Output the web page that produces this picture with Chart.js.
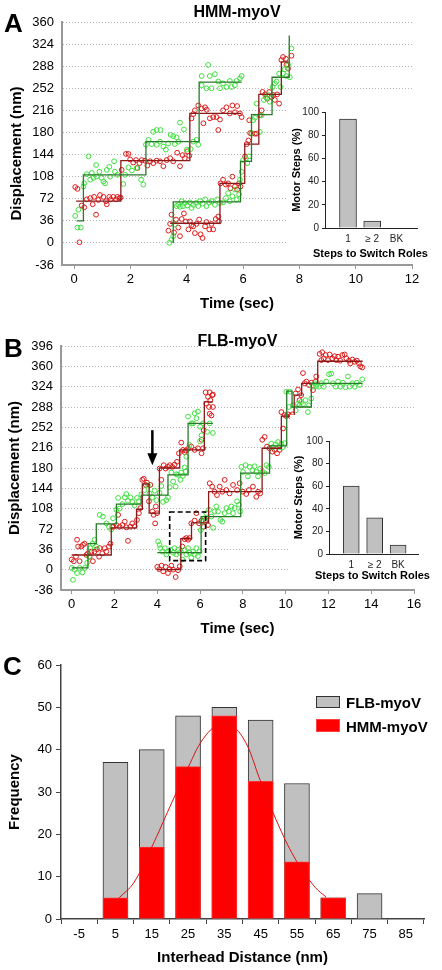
<!DOCTYPE html>
<html><head><meta charset="utf-8">
<script src="https://cdn.jsdelivr.net/npm/chart.js@4.4.1/dist/chart.umd.min.js"></script>
<style>
body{margin:0;background:#fff;}
#wrap{position:relative;width:442px;height:970px;overflow:hidden;font-family:'Liberation Sans',Arial,Helvetica,sans-serif;}
canvas{position:absolute;}
.lbl{position:absolute;font-weight:bold;color:#000;white-space:nowrap;}
.box{position:absolute;box-sizing:border-box;}
</style></head>
<body><div id="wrap">
<canvas id="cA" width="442" height="315" style="left:0;top:0"></canvas>
<canvas id="cAi" width="150" height="163" style="left:287px;top:100px"></canvas>
<canvas id="cB" width="442" height="320" style="left:0;top:320px"></canvas>
<canvas id="cBi" width="150" height="173" style="left:290px;top:415px"></canvas>
<canvas id="cC" width="442" height="330" style="left:0;top:640px"></canvas>
</div>
<script>
// ---------- Panel A (HMM-myoV) ----------
const timeTicksA = [0,2,4,6,8,10,12];
const dispTicksA = [-36,0,36,72,108,144,180,216,252,288,324,360];
// head trace 1
const aGreen1 = [[0.04,44],[0.15,54],[0.12,25],[0.24,25],[0.33,92],[0.36,97],[0.45,112],[0.51,141],[0.57,103],[0.63,114],[0.69,106],[0.78,127],[0.8,108],[0.9,116],[0.98,106],[1.04,100],[1.1,97],[1.16,119],[1.25,124],[1.28,108],[1.42,133],[1.45,116],[1.54,111],[1.75,96],[1.81,111],[1.93,123],[2.05,118],[2.22,122],[2.38,103],[2.46,95],
[2.55,160],[2.64,168],[2.75,161],[2.81,181],[2.93,184],[3.07,184],[2.93,160],[3.05,165],[3.17,157],[3.26,152],[3.34,162],[3.43,176],[3.52,174],[3.58,161],[3.64,172],[3.7,165],[3.76,196],[3.9,185],[4.0,152],[4.14,153],[4.23,165],[4.35,168],[4.41,160],
[4.53,257],[4.53,272],[4.7,252],[4.76,290],[4.82,272],[4.88,252],[5.0,275],[5.12,263],[5.18,252],[5.29,260],[5.41,254],[5.53,264],[5.59,254],[5.71,257],[5.77,264],[5.89,268],[5.95,272]];
const aRed1 = [[0.04,91],[0.12,88],[0.19,1],[0.27,61],[0.36,58],[0.45,71],[0.57,73],[0.66,63],[0.71,75],[0.78,46],[0.86,70],[0.92,78],[1.04,75],[1.13,68],[1.16,63],[1.25,75],[1.3,71],[1.39,75],[1.49,71],[1.54,75],[1.61,73],[1.65,74],
[1.69,119],[1.84,145],[1.93,145],[1.99,136],[2.1,131],[2.2,135],[2.25,122],[2.32,130],[2.4,135],[2.52,134],[2.6,126],[2.7,133],[2.81,130],[2.93,134],[3.05,133],[3.17,125],[3.29,135],[3.41,138],[3.52,133],[3.66,147],[3.76,125],[3.85,143],[3.93,138],[4.02,149],[4.09,142],
[4.17,203],[4.23,210],[4.29,216],[4.41,224],[4.53,219],[4.59,195],[4.65,221],[4.71,217],[4.82,203],[4.94,205],[5.06,205],[5.12,184],[5.18,201],[5.29,216],[5.41,221],[5.53,211],[5.62,224],[5.71,213],[5.79,223],[5.89,211],[5.95,205]];
// head trace 2
const aGreen2 = [[3.38,0],[3.46,5],[3.52,11],[3.58,30],[3.64,60],[3.7,62],[3.76,59],[3.82,68],[3.87,60],[3.93,65],[4.02,61],[4.11,66],[4.17,57],[4.23,62],[4.33,65],[4.41,60],[4.47,68],[4.56,64],[4.65,71],[4.7,60],[4.8,66],[4.88,68],[5.0,62],[5.08,71],[5.18,65],[5.29,66],[5.39,73],[5.47,81],[5.53,68],[5.62,76],[5.71,87],[5.77,71],[5.86,79],
[5.89,103],[5.95,116],[6.0,135],[6.1,138],[6.15,130],[6.22,141],
[6.3,179],[6.36,200],[6.42,204],[6.48,227],[6.6,181],[6.66,208],[6.74,233],[6.81,237],[6.89,241],[6.95,230],
[7.05,254],[7.13,260],[7.19,263],[7.28,276],[7.33,254],[7.42,276],[7.48,283],[7.54,272],[7.6,290],[7.66,270],[7.72,317]];
const aRed2 = [[3.35,20],[3.41,31],[3.46,46],[3.55,17],[3.62,38],[3.7,25],[3.76,11],[3.82,39],[3.9,48],[3.97,35],[4.06,22],[4.11,35],[4.17,29],[4.23,27],[4.29,16],[4.35,31],[4.44,38],[4.49,14],[4.56,8],[4.65,27],[4.7,34],[4.8,22],[4.88,31],[4.94,22],[5.03,39],[5.12,43],[5.15,35],
[5.2,97],[5.29,103],[5.39,95],[5.47,97],[5.55,89],[5.62,108],[5.71,92],[5.79,87],[5.86,97],[5.91,92],
[6.07,141],[6.13,161],[6.19,167],[6.25,179],[6.3,178],[6.42,178],[6.48,178],[6.22,200],
[6.6,208],[6.66,216],[6.69,246],[6.78,242],[6.86,235],[6.93,246],[7.01,238],[7.07,241],[7.13,233],[7.21,242],[7.28,227],
[7.36,298],[7.42,303],[7.52,300],[7.54,290],[7.6,284],[7.72,305]];
// step fits (time of each step, level after it)
const aGreenStep1T = [0.09,0.33,2.55,4.44,5.95];
const aGreenStep1Y = [36,111,165,262,262];
const aRedStep1T = [0.07,1.66,4.11,5.94];
const aRedStep1Y = [68,134,211,211];
const aGreenStep2T = [3.52,3.52,5.91,6.3,7.03,7.64];
const aGreenStep2Y = [0,67,133,209,270,338];
const aRedStep2T = [3.41,5.18,6.06,6.56,7.36,7.62];
const aRedStep2Y = [32,97,161,242,295,295];
// insets
const roleCats = ['1','\u2265 2','BK'];
const roleA = [94,6,0];
const roleB = [60,32,8];
const pctTicks = [0,20,40,60,80,100];

// ---------- Panel B (FLB-myoV) ----------
const timeTicksB = [0,2,4,6,8,10,12,14,16];
const dispTicksB = [-36,0,36,72,108,144,180,216,252,288,324,360,396];
const bGreen1 = [[0.06,-18],[0.0,3],[0.14,0],[0.25,-6],[0.37,3],[0.5,-5],[0.61,3],[0.72,12],[0.81,23],[0.87,38],[0.97,46],[1.07,53],[1.15,41],[1.31,97],[1.46,94],[1.62,82],[1.74,76],[1.85,71],[1.93,91],[2.09,106],[2.17,127],[2.24,108],[2.37,116],[2.48,128],[2.55,134],[2.63,122],[2.74,128],[2.83,120],[2.94,114],[3.05,127],[3.14,121],[3.25,133],[3.41,141],[3.57,149],[3.64,135],[3.77,128],[3.88,140],[3.96,123],[4.11,136],[4.19,148],[4.27,120],[4.42,123],[4.5,128],
[4.58,146],[4.66,172],[4.74,156],[4.86,147],[4.89,169],[4.97,168],[5.08,159],[5.12,172],[5.2,166],[5.28,181],[5.33,174],[5.36,200],[5.51,221],
[5.44,271],[5.59,259],[5.67,259],[5.75,277],[5.83,268],[5.9,280],[6.0,253],[6.0,227],[6.07,238],[6.14,259],[6.33,244],[6.45,259],[6.6,242]];
const bRed1 = [[0.0,18],[0.1,15],[0.2,23],[0.25,53],[0.3,41],[0.37,15],[0.45,41],[0.53,44],[0.6,46],[0.69,26],[0.76,29],[0.84,23],[0.92,32],[0.99,15],[1.07,32],[1.18,36],[1.28,23],[1.31,38],[1.43,29],[1.54,38],[1.62,32],[1.74,41],[1.81,46],
[1.9,76],[1.96,76],[2.09,79],[2.17,97],[2.24,76],[2.37,79],[2.48,85],[2.55,75],[2.63,51],[2.74,76],[2.83,82],[2.94,77],[3.05,88],[3.14,100],[3.21,109],
[3.3,159],[3.37,161],[3.46,150],[3.52,154],[3.61,121],[3.68,150],[3.77,103],[3.83,97],[3.9,82],[3.93,112],[3.99,100],
[4.11,179],[4.19,159],[4.3,185],[4.39,179],[4.5,182],[4.58,185],[4.7,182],[4.81,186],[4.92,191],[5.01,206],
[5.12,225],[5.2,212],[5.28,208],[5.33,211],[5.44,214],[5.59,218],[5.75,212],[5.9,215],[6.07,230],[6.07,206],[6.14,215],[6.17,247],
[6.26,314],[6.29,294],[6.37,306],[6.42,288],[6.45,314],[6.45,276],[6.48,300],[6.53,273],[6.57,309],[6.6,288],[6.6,310]];
const bGreen2 = [[4.04,50],[4.11,44],[4.14,38],[4.24,32],[4.35,38],[4.43,27],[4.5,32],[4.61,35],[4.74,30],[4.81,38],[4.89,27],[4.97,35],[5.05,30],[5.17,18],[5.28,35],[5.36,27],[5.44,38],[5.51,30],[5.59,21],[5.67,32],[5.75,27],[5.83,38],[5.9,24],[5.98,32],
[6.03,70],[6.14,85],[6.21,91],[6.29,100],[6.42,106],[6.53,94],[6.61,74],[6.68,103],[6.76,112],[6.84,103],[6.95,88],[7.04,85],[7.15,100],[7.23,109],[7.35,103],[7.46,112],[7.54,100],[7.62,109],[7.73,121],[7.82,115],[7.88,103],
[7.93,182],[8.01,173],[8.13,185],[8.24,165],[8.32,182],[8.44,176],[8.55,183],[8.63,173],[8.71,165],[8.81,179],[8.91,173],[9.02,171],[9.1,185],[9.22,182],
[9.33,223],[9.41,217],[9.53,222],[9.64,226],[9.72,217],[9.8,223],[9.88,217],[9.95,224],
[10.03,315],[10.19,315],[10.15,288],[10.34,291],[10.47,282],[10.58,294],[10.65,291],[10.73,297],[10.81,293],[10.93,300],[11.04,279],[11.09,291],[11.2,303],
[11.28,324],[11.36,330],[11.43,325],[11.56,324],[11.67,330],[11.78,324],[11.9,333],[12.03,346],[12.13,347],[12.21,330],[12.34,324],[12.45,333],[12.55,324],[12.68,331],[12.8,323],[12.91,342],[12.99,324],[13.12,330],[13.23,324],[13.33,331],[13.46,327],[13.58,337]];
const bRed2 = [[4.0,5],[4.09,1],[4.2,7],[4.28,-3],[4.39,5],[4.5,-6],[4.58,1],[4.66,7],[4.74,0],[4.86,-13],[4.97,-1],[5.05,6],
[5.17,41],[5.28,54],[5.36,56],[5.44,53],[5.51,56],
[5.59,82],[5.75,87],[5.83,100],[5.95,82],[6.07,87],[6.17,76],[6.26,88],[6.37,79],
[6.45,153],[6.57,147],[6.68,138],[6.79,132],[6.92,147],[7.04,138],[7.15,159],[7.23,141],[7.38,135],[7.54,150],[7.73,141],[7.85,153],[8.0,138],[8.16,134],[8.28,141],[8.47,147],[8.63,129],[8.71,138],[8.81,135],
[8.91,230],[9.02,235],[9.13,218],[9.25,215],[9.38,209],[9.49,212],[9.6,206],[9.72,212],
[9.8,279],[9.88,250],[9.95,274],[10.03,272],[10.11,275],[10.22,272],[10.31,275],
[10.47,312],[10.58,319],[10.65,300],[10.73,309],[10.81,348],
[10.89,330],[10.97,333],[11.09,327],[11.2,331],[11.28,318],[11.4,333],[11.43,342],
[11.59,382],[11.67,371],[11.71,385],[11.78,374],[11.87,380],[11.98,371],[12.06,381],[12.18,374],[12.29,378],[12.37,371],[12.45,377],[12.55,370],[12.65,380],[12.76,381],[12.84,374],[12.96,370],[13.02,365],[13.12,372],[13.23,368],[13.33,370],[13.43,365],[13.49,360],[13.58,358]];
const bGreenStep1T = [0,0.76,1.15,2.09,3.25,4.5,5.44,6.6];
const bGreenStep1Y = [3,46,81,116,132,168,259,259];
const bRedStep1T = [0,1.85,3.03,3.3,3.62,4.1,5.05,6.2,6.6];
const bRedStep1Y = [26,74,107,152,100,180,212,297,297];
const bGreenStep2T = [4.0,6.05,7.9,9.25,10.05,10.3,11.2,13.6];
const bGreenStep2Y = [30,94,171,219,316,288,330,330];
const bRedStep2T = [4.0,5.1,5.6,6.4,8.9,9.8,10.4,10.75,11.5,13.6];
const bRedStep2Y = [0,55,83,138,215,272,309,330,369,369];
const boxT = [4.58,6.26], boxNm = [16,102];
const arrowT = 3.77, arrowNm = [247,206,185];

// ---------- Panel C ----------
const distTicks = [-5,5,15,25,35,45,55,65,75,85];
const binCenters = [5,15,25,35,45,55,65,75];
const flbFreq = [37,40,48,50,47,32,5,6];
const hmmFreq = [5,17,36,48,32.5,13.5,5,0];
const fitX = [6,10,15,20,25,30,35,40,45,50,55,60,63];
const fitY = [5,8.5,17,26.5,35.8,43.5,46.3,43,32.5,22,13.5,7.5,5.2];
const freqTicks = [0,10,20,30,40,50,60];

// ---------- helpers ----------
Chart.defaults.font.family = "'Liberation Sans', Arial, Helvetica, sans-serif";
Chart.defaults.color = '#000';
const GREEN='#3fe03f', RED='#dd1a1a', GSTEP='#2a7a2a', RSTEP='#8a1a1a';
const toXY = a => a.map(p => ({x:p[0], y:p[1]}));
const stepXY = (t,v) => t.map((tt,i) => ({x:tt, y:v[i]}));
const scat = (pts,c) => ({data:toXY(pts), showLine:false, pointRadius:2.4, pointBorderWidth:1, pointBorderColor:c, pointBackgroundColor:'rgba(0,0,0,0)', borderColor:c});
const step = (t,v,c) => ({data:stepXY(t,v), showLine:true, stepped:true, borderColor:c, borderWidth:1.3, pointRadius:0, fill:false});
const setTicks = arr => s => { s.ticks = arr.map(v => ({value:v})); };

function mainOpts(c){
  return {
    responsive:false, animation:false, devicePixelRatio:1,
    layout:{padding:{left:0,right:c.padR,top:c.padT,bottom:0}},
    plugins:{legend:{display:false}, tooltip:{enabled:false}},
    scales:{
      x:{type:'linear', min:c.xmin, max:c.xmax, afterBuildTicks:setTicks(c.xt),
        afterFit:s=>{s.height=c.xh;},
        ticks:{font:{size:13}, color:'#000', padding:3, maxRotation:0, autoSkip:false},
        grid:{drawOnChartArea:false, drawTicks:true, tickLength:4, color:'#999'},
        border:{color:'#999', width:2},
        title:{display:true, text:'Time (sec)', font:{size:15, weight:'bold'}, color:'#000', padding:{top:0,bottom:c.xtPad}}},
      y:{type:'linear', min:c.ymin, max:c.ymax, afterBuildTicks:setTicks(c.yt),
        afterFit:s=>{s.width=c.yw;},
        ticks:{font:{size:13}, color:'#000', padding:8},
        grid:{color:'#b5b5b5', lineWidth:1, drawTicks:false},
        border:{color:'#999', width:2, dash:[1,2]},
        title:{display:c.ytitle, text:'Displacement (nm)', font:{size:15, weight:'bold'}, color:'#000', padding:{top:6,bottom:0}}}
    }
  };
}
const whiteBg = {id:'whiteBg', beforeDraw(ch){const x=ch.ctx; x.save(); x.fillStyle='#fff'; x.fillRect(0,0,ch.width,ch.height); x.restore();}};

function insetChart(id, vals, c){
  return new Chart(document.getElementById(id), {
    type:'bar',
    data:{datasets:[{data:vals.map((v,i)=>({x:i+1,y:v})), backgroundColor:'#c0c0c0', borderColor:'#333', borderWidth:1, barThickness:c.bw}]},
    options:{responsive:false, animation:false, devicePixelRatio:1,
      layout:{padding:{left:0,right:c.padR,top:c.padT,bottom:0}},
      plugins:{legend:{display:false}, tooltip:{enabled:false}},
      scales:{
        x:{type:'linear', offset:false, min:0.05, max:3.85, afterBuildTicks:setTicks([1,2,3]), afterFit:s=>{s.height=c.xh;},
          ticks:{font:{size:10}, color:'#222', padding:5, maxRotation:0, autoSkip:false, callback:v=>roleCats[Math.round(v)-1]},
          grid:{display:false, drawTicks:false, offset:false}, border:{color:'#222', width:1}},
        y:{min:0, max:100, afterBuildTicks:setTicks(pctTicks), afterFit:s=>{s.width=c.yw;},
          ticks:{font:{size:10}, color:'#222', padding:3},
          grid:{drawOnChartArea:false, drawTicks:true, tickLength:3, color:'#222'}, border:{color:'#222', width:1},
          title:{display:true, text:'Motor Steps (%)', font:{size:11, weight:'bold'}, color:'#000', padding:{top:c.ytPad,bottom:0}}}
      }},
    plugins:[whiteBg]
  });
}

// ---------- Chart A ----------
new Chart(document.getElementById('cA'), {
  type:'scatter',
  data:{datasets:[
    step(aGreenStep1T,aGreenStep1Y,GSTEP), step(aRedStep1T,aRedStep1Y,RSTEP),
    step(aGreenStep2T,aGreenStep2Y,GSTEP), step(aRedStep2T,aRedStep2Y,RSTEP),
    scat(aGreen1,GREEN), scat(aRed1,RED), scat(aGreen2,GREEN), scat(aRed2,RED)]},
  options:mainOpts({padR:30,padT:22,xmin:-0.43,xmax:12,xt:timeTicksA,xh:50,xtPad:2,ymin:-36,ymax:360,yt:dispTicksA,yw:62,ytitle:false})
});
insetChart('cAi', roleA, {bw:17,padR:20,padT:12,xh:35,yw:38,ytPad:3.4});

// ---------- Chart B ----------
const annot = {id:'annot', afterDatasetsDraw(ch){
  const {ctx, scales:{x,y}} = ch;
  ctx.save();
  ctx.strokeStyle='#000'; ctx.lineWidth=1.6; ctx.setLineDash([5,3]);
  const x0=x.getPixelForValue(boxT[0]), x1=x.getPixelForValue(boxT[1]);
  const y0=y.getPixelForValue(boxNm[1]), y1=y.getPixelForValue(boxNm[0]);
  ctx.strokeRect(x0,y0,x1-x0,y1-y0);
  ctx.setLineDash([]);
  const ax=x.getPixelForValue(arrowT), ya=y.getPixelForValue(arrowNm[0]), yb=y.getPixelForValue(arrowNm[1]), yt=y.getPixelForValue(arrowNm[2]);
  ctx.lineWidth=2.5; ctx.beginPath(); ctx.moveTo(ax,ya); ctx.lineTo(ax,yb+1); ctx.stroke();
  ctx.fillStyle='#000'; ctx.beginPath(); ctx.moveTo(ax-5,yb); ctx.lineTo(ax+5,yb); ctx.lineTo(ax,yt); ctx.closePath(); ctx.fill();
  ctx.restore();
}};
new Chart(document.getElementById('cB'), {
  type:'scatter',
  data:{datasets:[
    step(bGreenStep1T,bGreenStep1Y,GSTEP), step(bRedStep1T,bRedStep1Y,RSTEP),
    step(bGreenStep2T,bGreenStep2Y,GSTEP), step(bRedStep2T,bRedStep2Y,RSTEP),
    scat(bGreen1,GREEN), scat(bRed1,RED), scat(bGreen2,GREEN), scat(bRed2,RED)]},
  options:mainOpts({padR:28,padT:26,xmin:-0.5,xmax:16,xt:timeTicksB,xh:50,xtPad:2.4,ymin:-36,ymax:396,yt:dispTicksB,yw:61,ytitle:true}),
  plugins:[annot]
});
insetChart('cBi', roleB, {bw:16,padR:22,padT:26,xh:34,yw:39,ytPad:1.9});

// ---------- Chart C ----------
new Chart(document.getElementById('cC'), {
  data:{datasets:[
    {type:'line', data:fitX.map((v,i)=>({x:v,y:fitY[i]})), borderColor:'#e01010', borderWidth:1, pointRadius:0, tension:0.4, fill:false},
    {type:'bar', label:'HMM-myoV', data:binCenters.map((v,i)=>({x:v,y:hmmFreq[i]})), backgroundColor:'#ff0000', borderColor:'#ff3030', borderWidth:1, barThickness:25, grouped:false},
    {type:'bar', label:'FLB-myoV', data:binCenters.map((v,i)=>({x:v,y:flbFreq[i]})), backgroundColor:'#c0c0c0', borderColor:'#333', borderWidth:1, barThickness:25, grouped:false}
  ]},
  options:{responsive:false, animation:false, devicePixelRatio:1,
    layout:{padding:{left:0,right:18,top:25,bottom:0}},
    plugins:{legend:{display:false}, tooltip:{enabled:false}},
    scales:{
      x:{type:'linear', min:-5, max:85, afterBuildTicks:setTicks(distTicks), afterFit:s=>{s.height=51;},
        ticks:{font:{size:13}, color:'#000', padding:3, maxRotation:0, autoSkip:false},
        grid:{drawOnChartArea:false, drawTicks:true, tickLength:5, color:'#444'}, border:{color:'#444', width:1.5},
        title:{display:true, text:'Interhead Distance (nm)', font:{size:15, weight:'bold'}, color:'#000', padding:{top:0,bottom:3.4}}},
      y:{type:'linear', min:0, max:60, afterBuildTicks:setTicks(freqTicks), afterFit:s=>{s.width=61;},
        ticks:{font:{size:13}, color:'#000', padding:4},
        grid:{drawOnChartArea:false, drawTicks:true, tickLength:5, color:'#444'}, border:{color:'#444', width:1.5},
        title:{display:true, text:'Frequency', font:{size:15, weight:'bold'}, color:'#000', padding:{top:6,bottom:0}}}
    }}
});

// ---------- text labels ----------
const wrap = document.getElementById('wrap');
function lbl(text, x, cy, size, align, rot){
  const d = document.createElement('div');
  d.className='lbl'; d.textContent=text;
  d.style.fontSize=size+'px'; d.style.lineHeight=size+'px';
  d.style.top=(cy - size*0.49)+'px';
  if(align==='center'){ d.style.left=(x-200)+'px'; d.style.width='400px'; d.style.textAlign='center'; }
  else d.style.left=x+'px';
  if(rot){ d.style.transform='rotate(-90deg)'; }
  wrap.appendChild(d);
}
function box(x,y,w,h,bg,bd){const d=document.createElement('div'); d.className='box'; Object.assign(d.style,{left:x+'px',top:y+'px',width:w+'px',height:h+'px',background:bg,border:'1px solid '+bd}); wrap.appendChild(d);}
lbl('A', 4, 22.5, 26);
lbl('HMM-myoV', 237, 11.7, 16, 'center');
lbl('Displacement (nm)', 15, 153.5, 15, 'center', true);
lbl('Steps to Switch Roles', 370.5, 253.5, 11, 'center');
lbl('B', 4, 347.5, 26);
lbl('FLB-myoV', 237.5, 340.8, 16, 'center');
lbl('Steps to Switch Roles', 372.5, 575, 11, 'center');
lbl('C', 3, 666, 26);
box(316,696,24,12,'#c0c0c0','#333');
lbl('FLB-myoV', 346, 702.5, 15);
box(316,719,24,13,'#ff0000','#ff4040');
lbl('HMM-myoV', 346, 726.5, 15);
</script>
</body></html>
